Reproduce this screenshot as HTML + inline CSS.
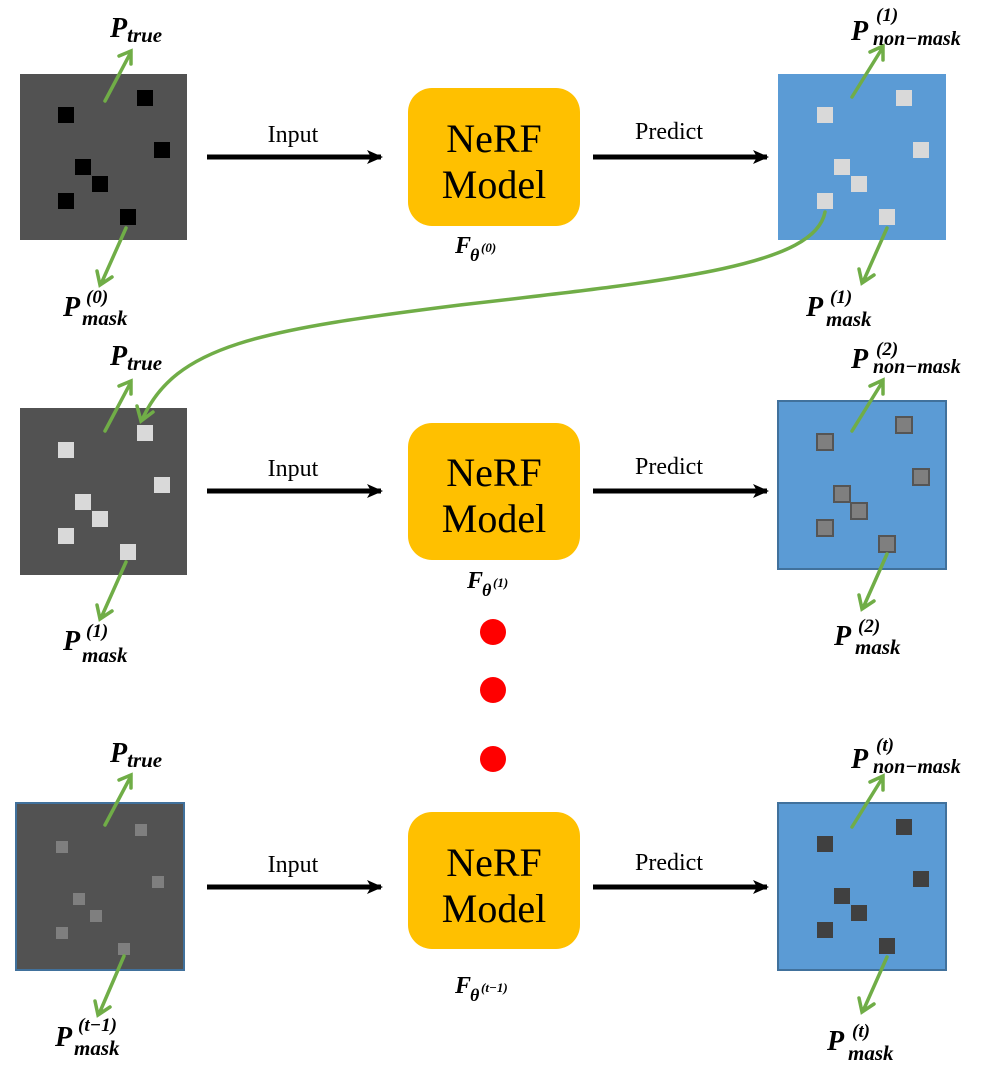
<!DOCTYPE html>
<html><head><meta charset="utf-8"><style>
body{margin:0;background:#fff}
svg text{font-family:"Liberation Serif",serif}
.lb{font-weight:bold;font-style:italic}
</style></head><body>
<svg width="996" height="1071" viewBox="0 0 996 1071" xmlns="http://www.w3.org/2000/svg">
<defs>
<g id="sq">
<rect x="38" y="33" width="16" height="16"/><rect x="117" y="16" width="16" height="16"/><rect x="134" y="68" width="16" height="16"/><rect x="55" y="85" width="16" height="16"/><rect x="72" y="102" width="16" height="16"/><rect x="38" y="119" width="16" height="16"/><rect x="100" y="135" width="16" height="16"/>
</g>
<g id="sqs">
<rect x="40" y="35" width="12" height="12"/><rect x="119" y="18" width="12" height="12"/><rect x="136" y="70" width="12" height="12"/><rect x="57" y="87" width="12" height="12"/><rect x="74" y="104" width="12" height="12"/><rect x="40" y="121" width="12" height="12"/><rect x="102" y="137" width="12" height="12"/>
</g>
<marker id="ah" markerWidth="16" markerHeight="14" refX="14" refY="7" orient="auto" markerUnits="userSpaceOnUse"><path d="M0,0 L16,7 L0,14 L4,7 z" fill="#000"/></marker>
</defs>

<rect x="20" y="74" width="167" height="166" fill="#525252"/>
<use href="#sq" x="20" y="74" fill="#000"/>
<rect x="778" y="74" width="168" height="166" fill="#5B9BD5"/>
<use href="#sq" x="779" y="74" fill="#D9D9D9"/>

<rect x="20" y="408" width="167" height="167" fill="#525252"/>
<use href="#sq" x="20" y="409" fill="#D9D9D9"/>
<rect x="778" y="401" width="168" height="168" fill="#5B9BD5" stroke="#41719C" stroke-width="2"/>
<use href="#sq" x="779" y="401" fill="#7F7F7F" stroke="#555" stroke-width="2"/>

<rect x="16" y="803" width="168" height="167" fill="#525252" stroke="#41719C" stroke-width="2"/>
<use href="#sqs" x="16" y="806" fill="#7F7F7F"/>
<rect x="778" y="803" width="168" height="167" fill="#5B9BD5" stroke="#41719C" stroke-width="2"/>
<use href="#sq" x="779" y="803" fill="#404040"/>

<g fill="#FFC000">
<rect x="408" y="88" width="172" height="138" rx="24"/>
<rect x="408" y="423" width="172" height="137" rx="24"/>
<rect x="408" y="812" width="172" height="137" rx="24"/>
</g>
<g font-size="40" text-anchor="middle" fill="#000">
<text x="494" y="152">NeRF</text><text x="494" y="198">Model</text>
<text x="494" y="486">NeRF</text><text x="494" y="532">Model</text>
<text x="494" y="876">NeRF</text><text x="494" y="922">Model</text>
</g>

<g stroke="#000" stroke-width="5" marker-end="url(#ah)">
<line x1="207" y1="157" x2="381" y2="157"/><line x1="593" y1="157" x2="767" y2="157"/>
<line x1="207" y1="491" x2="381" y2="491"/><line x1="593" y1="491" x2="767" y2="491"/>
<line x1="207" y1="887" x2="381" y2="887"/><line x1="593" y1="887" x2="767" y2="887"/>
</g>
<g font-size="24" text-anchor="middle">
<text x="293" y="142">Input</text><text x="669" y="139">Predict</text>
<text x="293" y="476">Input</text><text x="669" y="474">Predict</text>
<text x="293" y="872">Input</text><text x="669" y="870">Predict</text>
</g>

<g fill="#FF0000"><circle cx="493" cy="632" r="13"/><circle cx="493" cy="690" r="13"/><circle cx="493" cy="759" r="13"/></g>

<g stroke="#70AD47" stroke-width="3.5" fill="none" stroke-linecap="round">
<path d="M105 101 L131 52 M119 56 L131 51 L131 64"/>
<path d="M126 228 L101 284 M97 271 L100 285 L112 277"/>
<path d="M852 97 L883 47 M870 52 L883 46 L883 60"/>
<path d="M887 228 L863 282 M859 269 L862 283 L874 275"/>
<path d="M105 431 L131 382 M119 386 L131 381 L131 394"/>
<path d="M126 562 L101 618 M97 605 L100 619 L112 611"/>
<path d="M852 431 L883 381 M870 386 L883 380 L883 394"/>
<path d="M887 554 L863 608 M859 595 L862 609 L874 601"/>
<path d="M105 825 L131 776 M119 780 L131 775 L131 788"/>
<path d="M124 956 L99 1014 M95 1001 L98 1015 L110 1007"/>
<path d="M852 827 L883 777 M870 782 L883 776 L883 790"/>
<path d="M887 957 L863 1011 M859 998 L862 1012 L874 1004"/>
<path d="M825 212 C 815 265 680 280 460 305 C 260 330 175 345 142 420 M137 406 L141 421 L153 412"/>
</g>

<g class="lb" font-size="28">
<text x="110" y="37">P<tspan font-size="21" dy="5">true</tspan></text>
<text x="63" y="316">P</text><text x="86" y="303" font-size="19">(0)</text><text x="82" y="325" font-size="21">mask</text>
<text x="851" y="40">P</text><text x="876" y="21" font-size="19">(1)</text><text x="873" y="45" font-size="20">non−mask</text>
<text x="806" y="316">P</text><text x="830" y="303" font-size="19">(1)</text><text x="826" y="326" font-size="21">mask</text>
<text x="110" y="365">P<tspan font-size="21" dy="5">true</tspan></text>
<text x="851" y="368">P</text><text x="876" y="355" font-size="19">(2)</text><text x="873" y="373" font-size="20">non−mask</text>
<text x="63" y="650">P</text><text x="86" y="637" font-size="19">(1)</text><text x="82" y="662" font-size="21">mask</text>
<text x="834" y="645">P</text><text x="858" y="632" font-size="19">(2)</text><text x="855" y="654" font-size="21">mask</text>
<text x="110" y="762">P<tspan font-size="21" dy="5">true</tspan></text>
<text x="851" y="768">P</text><text x="876" y="751" font-size="19">(t)</text><text x="873" y="773" font-size="20">non−mask</text>
<text x="55" y="1046">P</text><text x="78" y="1031" font-size="19">(t−1)</text><text x="74" y="1055" font-size="21">mask</text>
<text x="827" y="1050">P</text><text x="852" y="1037" font-size="19">(t)</text><text x="848" y="1060" font-size="21">mask</text>
<text x="455" y="253" font-size="24">F</text><text x="470" y="261" font-size="18">θ</text><text x="481" y="252" font-size="13">(0)</text>
<text x="467" y="588" font-size="24">F</text><text x="482" y="596" font-size="18">θ</text><text x="493" y="587" font-size="13">(1)</text>
<text x="455" y="993" font-size="24">F</text><text x="470" y="1001" font-size="18">θ</text><text x="481" y="992" font-size="13">(t−1)</text>
</g>
</svg>
</body></html>
